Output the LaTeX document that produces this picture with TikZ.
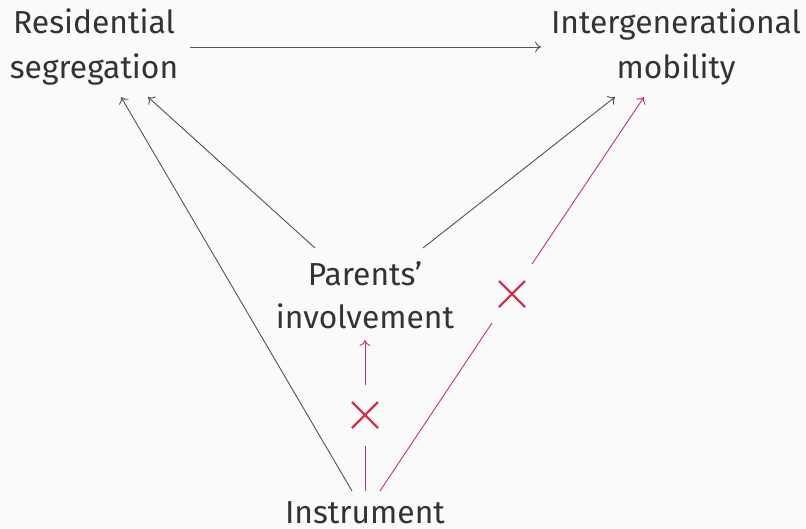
\documentclass[tikz,border=0pt]{standalone}
\usepackage{fontspec}
\setmainfont{Fira Sans}
\usetikzlibrary{arrows.meta,calc}
\definecolor{ink}{HTML}{333333}
\definecolor{redl}{HTML}{C8374F}
\definecolor{bg}{HTML}{FAFAFA}
\tikzset{
  lbl/.style={text=ink,align=center,inner sep=0pt,font=\fontsize{31.8}{45}\selectfont},
  conn/.style={draw=ink!85,line width=0.9pt,-{To[length=6pt,width=11pt]}},
  rconn/.style={draw=redl,line width=0.9pt},
  rarrow/.style={rconn,-{To[length=6pt,width=11pt]}},
  crossmark/.style={draw=redl,line width=2.2pt}
}
\begin{document}
\begin{tikzpicture}[x=1pt,y=-1pt]
\fill[bg] (0,0) rectangle (806,528);
\useasboundingbox (0,0) rectangle (806,528);
\node[lbl,anchor=base] (rs1) at (94,33) {Residential};
\node[lbl,anchor=base] (rs) at (94,78) {segregation};
\node[lbl,anchor=base] (im1) at (676,33) {Intergenerational};
\node[lbl,anchor=base] (im) at (676,78) {mobility};
\node[lbl,anchor=base] (pi1) at (365,285) {Parents’};
\node[lbl,anchor=base] (pi) at (365,328) {involvement};
\node[lbl,anchor=base] (ins) at (365,523) {Instrument};
% endpoints
\coordinate (rsA) at (190,47);
\coordinate (imA) at (541,47);
\coordinate (rsB) at (121,97);
\coordinate (rsC) at (148,97);
\coordinate (imB) at (615,97);
\coordinate (imC) at (644,97);
\coordinate (piL) at (315,248);
\coordinate (piR) at (423,248);
\coordinate (piB) at (365,340);
\coordinate (insL) at (352,491);
\coordinate (insM) at (365,491);
\coordinate (insR) at (380,491);
\coordinate (x1) at (365,415);
\coordinate (x2) at (512,294);
\draw[conn] (rsA) -- (imA);
\draw[conn] (insL) -- (rsB);
\draw[conn] (piL) -- (rsC);
\draw[conn] (piR) -- (imB);
% red vertical
\draw[rconn] (insM) -- (365,446);
\draw[rarrow] (365,385) -- (piB);
\draw[crossmark] ($(x1)+(-13,-13)$) -- ($(x1)+(13,13)$) ($(x1)+(-13,13)$) -- ($(x1)+(13,-13)$);
% red diagonal
\draw[rconn] (insR) -- (492,323);
\draw[rarrow] (532,264) -- (imC);
\draw[crossmark] ($(x2)+(-13,-13)$) -- ($(x2)+(13,13)$) ($(x2)+(-13,13)$) -- ($(x2)+(13,-13)$);
\end{tikzpicture}
\end{document}
